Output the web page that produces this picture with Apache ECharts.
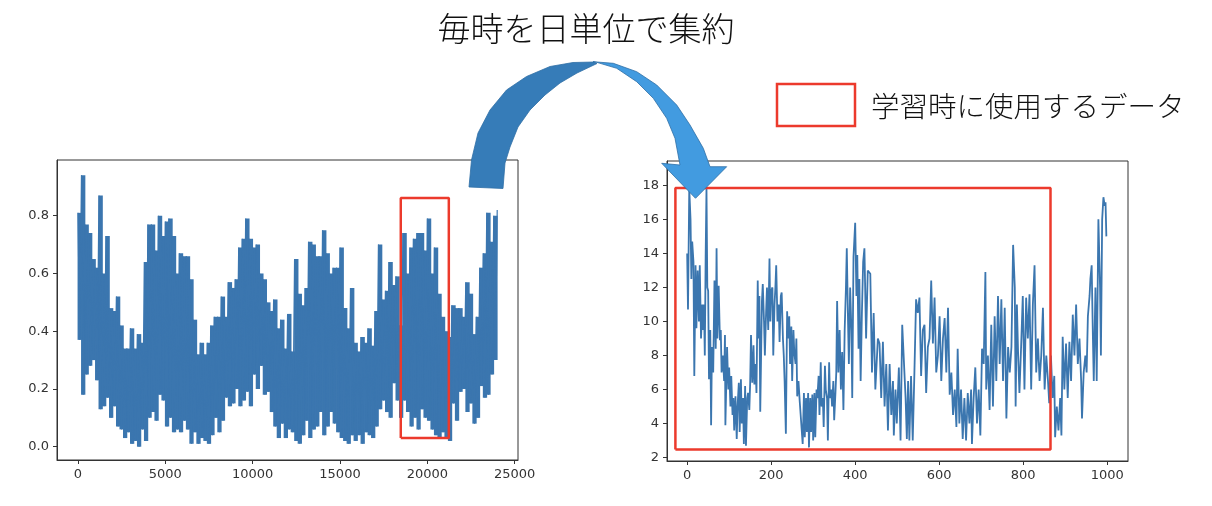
<!DOCTYPE html>
<html>
<head>
<meta charset="utf-8">
<script src="https://cdn.jsdelivr.net/npm/echarts@6.0.0/dist/echarts.min.js"></script>
<style>
  html, body { margin: 0; background: #fff; }
  #chart { width: 1212px; height: 506px; }
</style>
</head>
<body>
<div id="chart"></div>
<script>
// hourly series, read as local peaks (x = i*200) and troughs (x = i*200+100)
const hourlyPeaks = [
  0.81, 0.94, 0.77, 0.74, 0.65, 0.62, 0.87, 0.60, 0.73, 0.48,
  0.47, 0.52, 0.42, 0.34, 0.34, 0.41, 0.34, 0.39, 0.36, 0.64,
  0.77, 0.77, 0.68, 0.80, 0.73, 0.78, 0.79, 0.73, 0.60, 0.67,
  0.66, 0.66, 0.58, 0.44, 0.32, 0.36, 0.32, 0.36, 0.42, 0.45,
  0.45, 0.52, 0.45, 0.57, 0.55, 0.58, 0.69, 0.72, 0.79, 0.72,
  0.69, 0.70, 0.60, 0.58, 0.50, 0.47, 0.51, 0.41, 0.44, 0.34,
  0.46, 0.33, 0.65, 0.53, 0.49, 0.55, 0.71, 0.70, 0.66, 0.66,
  0.75, 0.67, 0.60, 0.62, 0.62, 0.69, 0.48, 0.41, 0.55, 0.36,
  0.33, 0.38, 0.36, 0.41, 0.35, 0.47, 0.70, 0.51, 0.54, 0.64,
  0.56, 0.59, 0.42, 0.74, 0.60, 0.69, 0.72, 0.74, 0.74, 0.68,
  0.79, 0.60, 0.69, 0.53, 0.45, 0.40, 0.38, 0.49, 0.48, 0.48,
  0.45, 0.57, 0.53, 0.39, 0.45, 0.62, 0.67, 0.81, 0.71, 0.80,
  0.82
];
const hourlyTroughs = [
  0.37, 0.18, 0.25, 0.28, 0.30, 0.23, 0.13, 0.14, 0.17, 0.10,
  0.14, 0.07, 0.06, 0.03, 0.05, 0.01, 0.02, 0.00, 0.06, 0.02,
  0.10, 0.12, 0.09, 0.18, 0.16, 0.07, 0.10, 0.05, 0.06, 0.05,
  0.09, 0.06, 0.01, 0.05, 0.01, 0.03, 0.02, 0.01, 0.04, 0.10,
  0.05, 0.09, 0.17, 0.14, 0.15, 0.20, 0.14, 0.16, 0.19, 0.14,
  0.25, 0.20, 0.28, 0.18, 0.19, 0.12, 0.07, 0.03, 0.08, 0.03,
  0.06, 0.05, 0.02, 0.01, 0.04, 0.09, 0.03, 0.06, 0.07, 0.12,
  0.04, 0.07, 0.12, 0.08, 0.05, 0.03, 0.02, 0.01, 0.04, 0.02,
  0.04, 0.01, 0.05, 0.04, 0.03, 0.07, 0.13, 0.16, 0.12, 0.10,
  0.22, 0.16, 0.10, 0.16, 0.12, 0.07, 0.10, 0.06, 0.13, 0.10,
  0.09, 0.06, 0.04, 0.03, 0.05, 0.03, 0.02, 0.15, 0.09, 0.19,
  0.20, 0.12, 0.15, 0.08, 0.10, 0.21, 0.17, 0.18, 0.25, 0.30
];
const hourlyStep = 200;

// daily totals: [day, value]
const dailyTotals = [
  [0,14],[2,10.7],[5,17.8],[8,16],[10,12.5],[12,14.7],[15,13.5],[17,6.8],[20,13.3],[22,9.6],
  [25,13],[28,10],[30,13.3],[33,9],[36,11],[38,9.5],[40,11],[42,8],[44,13.8],[46,17.8],
  [48,12],[50,11.8],[52,6.6],[55,9.5],[57,3.9],[59,8.5],[62,7],[65,12.4],[68,8.4],[70,14.3],
  [72,9],[75,12.1],[78,8.9],[80,9.5],[82,7],[85,8],[88,6.5],[90,9.2],[91,3.9],[95,8.5],
  [98,6],[100,7.3],[103,5],[105,6.8],[108,4.5],[110,5.5],[112,3.6],[115,5.6],[118,3.1],[120,5],
  [123,6.4],[125,3.5],[128,6.6],[130,4],[133,5.5],[135,2.8],[138,6.2],[140,2.7],[143,5.5],[145,5.8],
  [148,4.8],[150,6.4],[152,9.2],[155,6.4],[158,8.6],[160,6.3],[163,7.5],[165,5.8],[168,12.4],[170,9],
  [172,11.5],[174,4.7],[178,11.2],[180,12.2],[183,10],[185,8],[188,10.6],[190,12],[193,9.5],[196,13.7],
  [198,10],[200,11.8],[203,12],[205,8],[208,11],[210,12],[212,13.3],[215,10],[218,11],[220,8.8],
  [223,11.5],[225,11.7],[228,9],[230,8],[232,6.5],[235,3.4],[238,10.6],[240,9],[243,10.3],[245,7.5],
  [248,9.7],[250,6.5],[253,9.5],[255,8.2],[258,7.5],[260,9],[262,5.6],[265,6.5],[268,5.3],[270,5.4],
  [272,5.2],[275,2.8],[278,5.8],[280,3.2],[283,5.5],[285,3.5],[288,5.8],[290,2.6],[293,5.5],[295,3.5],
  [298,5.7],[300,3],[303,5.8],[305,3.2],[308,6],[310,5.5],[313,6.8],[315,4.5],[318,7.6],[320,5],
  [323,5.5],[325,3.8],[328,7.4],[330,6],[333,5.5],[335,3],[338,7.6],[340,5.5],[343,6],[345,5],
  [348,6.5],[350,4.2],[353,5.8],[355,7],[357,11.2],[360,7],[363,9.5],[366,6],[369,8.2],[372,4.8],
  [375,9.5],[378,12],[380,14.3],[383,10],[385,7.5],[388,12],[391,9.5],[393,5.5],[396,13.8],[400,15.8],
  [403,11.5],[405,13.9],[408,8.4],[410,12.5],[413,6.5],[416,10.5],[419,13.5],[422,14.3],[426,9],[430,13],
  [436,12.8],[440,7],[444,10.5],[448,6],[454,9],[458,8.7],[462,5.5],[466,8.8],[470,5],[474,7.5],
  [478,3.6],[482,7.5],[486,4.5],[490,6.5],[492,3.3],[496,6],[499,4],[504,7.3],[508,3],[512,9.8],
  [516,9.7],[520,5.5],[523,3.1],[526,6.5],[529,3],[533,6.8],[537,3],[541,7],[545,11.3],[549,10.5],
  [553,11.4],[557,6.8],[561,9.5],[565,9.8],[569,5.8],[573,8.5],[577,9],[581,12.4],[585,8.7],[589,11.4],
  [593,7],[597,8],[601,10.3],[605,6.5],[609,9],[613,10.2],[617,7],[621,10.8],[625,5.7],[629,7],
  [633,4.5],[637,6],[641,3.8],[644,8.4],[648,4],[652,6],[656,3.1],[660,5.5],[664,3],[668,5.8],
  [672,4],[676,6],[678,2.8],[682,5.5],[686,7.3],[690,4],[694,6],[698,3.3],[702,8.4],[706,7.5],
  [710,12.9],[712,6],[716,8],[720,4.8],[724,9.8],[728,5],[732,10.3],[736,6.5],[740,11.5],[744,7.5],
  [748,11.3],[752,6.5],[756,10.8],[760,4.3],[764,8.5],[768,7],[772,8.5],[776,14.5],[780,12],[782,5],
  [785,11],[788,8],[791,5.8],[795,8.5],[799,11.5],[803,6],[807,11.4],[811,9],[815,11.6],[819,6],
  [823,11],[827,13.3],[831,7],[835,9],[839,6.5],[843,8],[847,10.8],[851,6],[855,8],[859,6.5],
  [862,5.2],[866,8],[870,5.5],[874,6.8],[876,3.2],[880,5],[884,3.6],[888,5.5],[891,3.3],[894,9.1],
  [898,6],[902,8.7],[906,5.5],[910,8.8],[914,6.5],[918,10.4],[922,8],[926,11],[930,7.5],[934,9],
  [938,6.5],[940,4.3],[944,7],[948,8],[951,7],[954,10.3],[958,11.5],[960,12.5],[963,13.3],[966,9],
  [968,6.5],[972,12],[975,6.5],[979,16],[983,12],[985,8],[988,16],[991,17.3],[994,16.8],[996,17],
  [998,15]
];

const hourlyXTicks = [0, 5000, 10000, 15000, 20000, 25000];
const hourlyYTicks = [0, 0.2, 0.4, 0.6, 0.8];
const dailyXTicks = [0, 200, 400, 600, 800, 1000];
const dailyYTicks = [2, 4, 6, 8, 10, 12, 14, 16, 18];

// training ranges (data coords): [xFrom, xTo, yFrom, yTo]
const hourlyTrainBox = [18480, 21230, 0.03, 0.861];
const dailyTrainBox = [-28, 865, 2.47, 17.84];

const title = '毎時を日単位で集約';
const legendLabel = '学習時に使用するデータ';

const LINE = '#3b76af';
const RED = '#ec3a2c';
const FRAME = '#333';

// zigzag through peaks and troughs
const hourlyLine = [];
hourlyPeaks.forEach((v, i) => {
  hourlyLine.push([i * hourlyStep, v]);
  if (i < hourlyTroughs.length) hourlyLine.push([i * hourlyStep + hourlyStep / 2, hourlyTroughs[i]]);
});
// each 200-hour window spans its trough..peak: [xFrom, xTo, lo, hi]
const hourlyBand = hourlyTroughs.map((lo, i) => [i * hourlyStep, (i + 1) * hourlyStep, lo, hourlyPeaks[i]]);

const boxPath = (b) => [[b[0], b[2]], [b[1], b[2]], [b[1], b[3]], [b[0], b[3]], [b[0], b[2]]];

function axis(ticks, fmt, extra) {
  return Object.assign({
    type: 'value',
    scale: true,
    axisLine: { show: true, onZero: false, lineStyle: { color: FRAME, width: 1 } },
    axisTick: { show: true, length: 4, customValues: ticks, lineStyle: { color: FRAME } },
    axisLabel: {
      customValues: ticks, color: '#333', fontSize: 13,
      fontFamily: 'DejaVu Sans', margin: 8, formatter: fmt,
    },
    splitLine: { show: false },
  }, extra);
}

const chart = echarts.init(document.getElementById('chart'), null, { renderer: 'canvas' });

chart.setOption({
  backgroundColor: '#fff',
  animation: false,
  grid: [
    { left: 57, top: 160, width: 461, height: 300, show: true, borderColor: FRAME, borderWidth: 1 },
    { left: 667, top: 161, width: 461, height: 300, show: true, borderColor: FRAME, borderWidth: 1 },
  ],
  xAxis: [
    axis(hourlyXTicks, (v) => String(v), { gridIndex: 0, min: -1200, max: 25190 }),
    axis(dailyXTicks, (v) => String(v), { gridIndex: 1, min: -48, max: 1049.5 }),
  ],
  yAxis: [
    axis(hourlyYTicks, (v) => v.toFixed(1), { gridIndex: 0, min: -0.046, max: 0.993 }),
    axis(dailyYTicks, (v) => String(v), { gridIndex: 1, min: 1.8, max: 19.43 }),
  ],
  series: [
    {
      type: 'custom', xAxisIndex: 0, yAxisIndex: 0, data: hourlyBand,
      encode: { x: [0, 1], y: [2, 3] },
      renderItem: (params, api) => {
        const top = api.coord([api.value(0), api.value(3)]);
        const bottom = api.coord([api.value(1), api.value(2)]);
        return {
          type: 'rect',
          shape: { x: top[0] - 0.4, y: top[1], width: bottom[0] - top[0] + 0.8, height: bottom[1] - top[1] },
          style: { fill: LINE },
        };
      },
    },
    {
      type: 'line', xAxisIndex: 0, yAxisIndex: 0, data: hourlyLine,
      showSymbol: false, sampling: null,
      lineStyle: { color: LINE, width: 1.2 },
    },
    {
      type: 'line', xAxisIndex: 1, yAxisIndex: 1, data: dailyTotals,
      showSymbol: false,
      lineStyle: { color: LINE, width: 1.8 },
    },
    {
      type: 'line', xAxisIndex: 0, yAxisIndex: 0, data: boxPath(hourlyTrainBox),
      showSymbol: false, z: 5,
      lineStyle: { color: RED, width: 2.5 },
    },
    {
      type: 'line', xAxisIndex: 1, yAxisIndex: 1, data: boxPath(dailyTrainBox),
      showSymbol: false, z: 5,
      lineStyle: { color: RED, width: 2.5 },
    },
  ],
  graphic: [
    {
      type: 'text', x: 586, y: 28, z: 100,
      style: {
        text: title, font: '300 33px "Noto Sans CJK JP"', fill: '#111',
        align: 'center', verticalAlign: 'middle',
      },
    },
    {
      type: 'rect', z: 100,
      shape: { x: 777, y: 84, width: 78, height: 42 },
      style: { fill: 'none', stroke: RED, lineWidth: 2.5 },
    },
    {
      type: 'text', x: 871, y: 106, z: 100,
      style: {
        text: legendLabel, font: '300 28.5px "Noto Sans CJK JP"', fill: '#111',
        align: 'left', verticalAlign: 'middle',
      },
    },
    // curved arrow: dark rising half
    {
      type: 'polygon', z: 100,
      shape: {
        points: [
          [469, 187], [471.5, 160], [478, 133], [490, 110], [506.5, 90], [526.5, 76.5],
          [550, 66.5], [573, 62.5], [594, 62], [597, 63.5], [577, 73], [560, 83],
          [545, 95], [530, 110], [518, 127], [510, 147], [505, 163], [503, 188.5],
        ],
      },
      style: { fill: '#367cb8', stroke: '#2f6ea6', lineWidth: 0.8 },
    },
    // light falling half with head
    {
      type: 'polygon', z: 101,
      shape: {
        points: [
          [593, 61.7], [613.3, 63.3], [636.7, 71.7], [656.7, 85], [676.7, 105], [690, 125],
          [703.3, 148.3], [710, 166.7], [726.7, 166.7], [695.5, 198.3],
          [661.7, 163.3], [680, 165], [675, 138.3], [666.7, 118.3], [653.3, 98.3],
          [636.7, 81.7], [616.7, 68.3], [596.7, 62.3],
        ],
      },
      style: { fill: '#429be0', stroke: '#2f6ea6', lineWidth: 0.8 },
    },
  ],
});
</script>
</body>
</html>
